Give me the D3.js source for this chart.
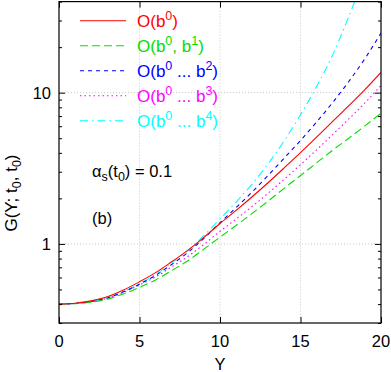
<!DOCTYPE html>
<html><head><meta charset="utf-8">
<script src="https://cdn.jsdelivr.net/npm/d3@7"></script>
<style>
body{margin:0;background:#fff;}
svg{display:block;font-family:"Liberation Sans",Arial,Helvetica,sans-serif;}
</style></head>
<body><svg id="c" width="391" height="372"></svg>
<script>
// ---- data ----
const Yvals = [0,1,2,3,4,5,6,7,8,9,10,11,12,13,14,15,16,17,18,19,20];
const gB0   = [0.400,0.405,0.420,0.447,0.495,0.562,0.646,0.762,0.906,1.104,1.365,1.667,2.051,2.547,3.192,4.018,5.082,6.457,8.204,10.47,13.61];
const gB1   = [0.400,0.403,0.412,0.431,0.467,0.516,0.578,0.667,0.774,0.923,1.109,1.324,1.592,1.923,2.339,2.831,3.436,4.169,5.000,6.026,7.311];
const gB2   = [0.400,0.404,0.416,0.439,0.482,0.542,0.619,0.731,0.877,1.089,1.380,1.738,2.208,2.844,3.707,4.831,6.397,8.610,11.86,16.79,24.77];
const gB3   = [0.400,0.404,0.415,0.437,0.478,0.535,0.605,0.705,0.826,0.993,1.211,1.459,1.770,2.168,2.685,3.342,4.188,5.284,6.699,8.551,11.17];
const gB4   = [0.400,0.404,0.416,0.440,0.484,0.547,0.628,0.748,0.906,1.135,1.462,1.892,2.495,3.396,4.831,7.145,10.99,17.78,31.92,60.26];
const xTicks = [0,5,10,15,20];
const yMajor = [1,10];
const yMinor = [0.3,0.4,0.5,0.6,0.7,0.8,0.9,2,3,4,5,6,7,8,9,20,30,40];

const series = [
  {vals:gB0, color:"#ff0000", dash:null,       label:[["O(b",""],["0","sup"],[")",""]]},
  {vals:gB1, color:"#00e000", dash:"8,4",      label:[["O(b",""],["0","sup"],[", b",""],["1","sup"],[")",""]]},
  {vals:gB2, color:"#0000ff", dash:"4,4",      label:[["O(b",""],["0","sup"],[" ... b",""],["2","sup"],[")",""]]},
  {vals:gB3, color:"#ff00ff", dash:"1.5,3",    label:[["O(b",""],["0","sup"],[" ... b",""],["3","sup"],[")",""]]},
  {vals:gB4, color:"#00ffff", dash:"8,4,1.5,4",label:[["O(b",""],["0","sup"],[" ... b",""],["4","sup"],[")",""]]}
];

const L=59, R=381, T=1.6, B=323;
const svg = d3.select("#c");
const x = d3.scaleLinear().domain([0,20]).range([L,R]);
const y = d3.scaleLog().domain([0.3,40]).range([B,T]);

// grid
const grid = svg.append("g").attr("stroke","#c8c8c8").attr("stroke-width",1).attr("stroke-dasharray","1,2");
[5,10,15].forEach(v=>grid.append("line").attr("x1",x(v)).attr("x2",x(v)).attr("y1",T).attr("y2",B));
yMajor.forEach(v=>grid.append("line").attr("x1",L).attr("x2",R).attr("y1",y(v)).attr("y2",y(v)));

// clip
svg.append("clipPath").attr("id","clp").append("rect").attr("x",L).attr("y",T).attr("width",R-L).attr("height",B-T);

const line = d3.line().x((d,i)=>x(Yvals[i])).y(d=>y(d)).curve(d3.curveMonotoneX);
const lg = svg.append("g").attr("clip-path","url(#clp)");
series.slice().reverse().forEach(s=>{
  lg.append("path").attr("d",line(s.vals)).attr("fill","none").attr("stroke",s.color)
    .attr("stroke-width",1.1).attr("stroke-dasharray",s.dash);
});

// axes (inward ticks, mirrored)
function axisTicks(){
  svg.append("g").attr("transform",`translate(0,${B})`).call(d3.axisBottom(x).tickValues(xTicks).tickSize(-6).tickFormat(""));
  svg.append("g").attr("transform",`translate(0,${T})`).call(d3.axisTop(x).tickValues(xTicks).tickSize(-6).tickFormat(""));
  svg.append("g").attr("transform",`translate(${L},0)`).call(d3.axisLeft(y).tickValues(yMajor).tickSize(-6).tickFormat(""));
  svg.append("g").attr("transform",`translate(${R},0)`).call(d3.axisRight(y).tickValues(yMajor).tickSize(-6).tickFormat(""));
  svg.append("g").attr("transform",`translate(${L},0)`).call(d3.axisLeft(y).tickValues(yMinor).tickSize(-3).tickFormat(""));
  svg.append("g").attr("transform",`translate(${R},0)`).call(d3.axisRight(y).tickValues(yMinor).tickSize(-3).tickFormat(""));
  svg.selectAll(".domain").remove();
}
axisTicks();
svg.append("rect").attr("x",L).attr("y",T).attr("width",R-L).attr("height",B-T)
  .attr("fill","none").attr("stroke","#000").attr("stroke-width",1.2);

// tick labels
const fs=16.5, sfs=12.5;
svg.append("g").selectAll("text").data(xTicks).join("text")
  .attr("x",d=>x(d)).attr("y",346.5).attr("text-anchor","middle").attr("font-size",fs).text(d=>d);
svg.append("g").selectAll("text").data(yMajor).join("text")
  .attr("x",51).attr("y",d=>y(d)+6).attr("text-anchor","end").attr("font-size",fs).text(d=>d);

// axis titles
svg.append("text").attr("x",x(10)).attr("y",369.5).attr("text-anchor","middle").attr("font-size",fs).text("Y");
const yl = svg.append("text").attr("transform","translate(17,193) rotate(-90)").attr("text-anchor","middle").attr("font-size",17);
yl.append("tspan").text("G(Y; t");
yl.append("tspan").attr("font-size",sfs).attr("dy",4).text("0");
yl.append("tspan").attr("dy",-4).text(", t");
yl.append("tspan").attr("font-size",sfs).attr("dy",4).text("0");
yl.append("tspan").attr("dy",-4).text(")");

// legend
series.forEach((s,i)=>{
  const cy = 20.7 + i*25;
  svg.append("line").attr("x1",80).attr("x2",126).attr("y1",cy).attr("y2",cy)
    .attr("stroke",s.color).attr("stroke-width",1.1).attr("stroke-dasharray",s.dash);
  const t = svg.append("text").attr("x",137).attr("y",cy+6).attr("font-size",17).attr("fill",s.color);
  let up=false;
  s.label.forEach(([txt,kind])=>{
    const ts = t.append("tspan").text(txt);
    if(kind==="sup"){ ts.attr("font-size",sfs).attr("dy",-7); up=true; }
    else if(up){ ts.attr("dy",7); up=false; }
  });
});

// annotations
const a = svg.append("text").attr("x",92).attr("y",177).attr("font-size",fs);
a.append("tspan").text("α");
a.append("tspan").attr("font-size",sfs).attr("dy",4).text("s");
a.append("tspan").attr("dy",-4).text("(t");
a.append("tspan").attr("font-size",sfs).attr("dy",4).text("0");
a.append("tspan").attr("dy",-4).text(") = 0.1");
svg.append("text").attr("x",92).attr("y",223.5).attr("font-size",fs).text("(b)");
</script></body></html>
